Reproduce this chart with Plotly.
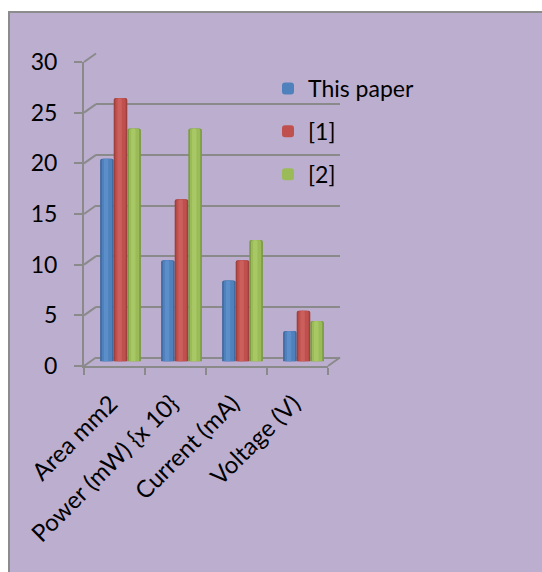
import plotly.graph_objects as go

# Chart data
categories = ["Area mm2", "Power (mW) {x 10}", "Current (mA)", "Voltage (V)"]
this_paper = [20, 10, 8, 3]
ref_1 = [26, 16, 10, 5]
ref_2 = [23, 23, 12, 4]
series_names = ["This paper", "[1]", "[2]"]
y_ticks = [0, 5, 10, 15, 20, 25, 30]

W, H = 542, 572
FONT = "Lato"
GRID = "#8A8A8A"
BG = "#BCAECF"
# (shadow, body, highlight) tones giving each bar a cylinder look
tones = [
    ("#41699E", "#4F81BD", "#5C8EC9"),
    ("#9E403D", "#C0504D", "#CA5F5C"),
    ("#7B9A43", "#9BBB59", "#A8C866"),
]


def px(x):
    return x / W


def py(y):
    return 1 - y / H


# front frame (pixels) and the perspective offsets of the 3D look
FX0, FX1, FY0, FY1 = 84, 328, 366, 62
BACK_DX, BACK_DY = 12, -8.5
BAR_DX, BAR_DY = 6, -4.5

# bar geometry in category units
BAR_W = 0.223
GROUP_START = -1.5 * BAR_W

fig = go.Figure()
# invisible carriers so the frame and back-wall subplots get drawn
for xa, ya in [("x", "y"), ("x2", "y2")]:
    fig.add_trace(go.Bar(
        x=categories, y=this_paper, xaxis=xa, yaxis=ya,
        marker=dict(color="rgba(0,0,0,0)", line=dict(width=0)),
        showlegend=False, hoverinfo="skip",
    ))

for i, (name, vals, (dark, body, light)) in enumerate(
        zip(series_names, [this_paper, ref_1, ref_2], tones)):
    left = GROUP_START + i * BAR_W
    layers = [
        (dark, 0.0, 1.0, False),
        (body, 0.12, 0.76, True),
        (light, 0.28, 0.32, False),
    ]
    for color, off, frac, in_legend in layers:
        fig.add_trace(go.Bar(
            x=categories, y=vals, name=name, legendgroup=name,
            showlegend=in_legend, hoverinfo="skip" if not in_legend else None,
            offset=left + off * BAR_W, width=frac * BAR_W,
            marker=dict(color=color, line=dict(width=0), cornerradius=2),
            xaxis="x3", yaxis="y3",
        ))

axis_font = dict(family=FONT, size=23, color="black")

fig.update_layout(
    width=W, height=H,
    margin=dict(l=0, r=0, t=0, b=0),
    paper_bgcolor="white",
    plot_bgcolor="rgba(0,0,0,0)",
    barmode="overlay",
    showlegend=True,
    legend=dict(
        x=px(268), y=py(67), xanchor="left", yanchor="top",
        font=dict(family=FONT, size=23, color="black"),
        bgcolor="rgba(0,0,0,0)", tracegroupgap=10,
    ),
    # front frame: value axis and category axis
    xaxis=dict(
        domain=[px(FX0), px(FX1)], anchor="y", type="category",
        categoryarray=categories, range=[-0.5, 3.5],
        showline=True, linecolor=GRID, linewidth=2,
        ticks="outside", tickson="boundaries", ticklen=7, tickwidth=2, tickcolor=GRID,
        tickangle=-45, tickfont=dict(family=FONT, size=24, color="black"),
        ticklabelstandoff=12, ticklabelshift=-4,
        showgrid=False, zeroline=False, automargin=False,
    ),
    yaxis=dict(
        domain=[py(FY0), py(FY1)], anchor="x", range=[0, 30],
        tickvals=y_ticks, showline=True, linecolor=GRID, linewidth=2,
        ticks="outside", ticklen=8, tickwidth=2, tickcolor=GRID,
        tickfont=axis_font, ticklabelstandoff=12,
        showgrid=False, zeroline=False, automargin=False,
    ),
    # back wall carrying the gridlines
    xaxis2=dict(
        domain=[px(FX0 + BACK_DX), px(FX1 + BACK_DX)], anchor="y2",
        type="category", categoryarray=categories, range=[-0.5, 3.5],
        visible=False,
    ),
    yaxis2=dict(
        domain=[py(FY0 + BACK_DY), py(FY1 + BACK_DY)], anchor="x2",
        range=[0, 30], tickvals=y_ticks, showticklabels=False, ticks="",
        showgrid=True, gridcolor=GRID, gridwidth=2,
        zeroline=True, zerolinecolor=GRID, zerolinewidth=2, showline=False,
        automargin=False,
    ),
    # bars placed at mid depth
    xaxis3=dict(
        domain=[px(FX0 + BAR_DX), px(FX1 + BAR_DX)], anchor="y3",
        type="category", categoryarray=categories, range=[-0.5, 3.5],
        visible=False,
    ),
    yaxis3=dict(
        domain=[py(FY0 + BAR_DY), py(FY1 + BAR_DY)], anchor="x3",
        range=[0, 30], visible=False,
    ),
)

shapes = [
    # chart area
    dict(type="rect", xref="paper", yref="paper",
         x0=px(9), x1=px(W + 5), y0=py(H + 5), y1=py(12),
         fillcolor=BG, line=dict(color="#8C8C8C", width=2), layer="below"),
]
# diagonal connectors from the front value axis to the back wall
scale = (FY0 - FY1) / 30
for v in y_ticks:
    yv = FY0 - v * scale
    shapes.append(dict(type="line", xref="paper", yref="paper",
                       x0=px(FX0), y0=py(yv), x1=px(FX0 + BACK_DX), y1=py(yv + BACK_DY),
                       line=dict(color=GRID, width=2), layer="below"))
# right edge of the floor
shapes.append(dict(type="line", xref="paper", yref="paper",
                   x0=px(FX1), y0=py(FY0), x1=px(FX1 + BACK_DX), y1=py(FY0 + BACK_DY),
                   line=dict(color=GRID, width=2), layer="below"))
fig.update_layout(shapes=shapes)

fig.write_html("out.html")
